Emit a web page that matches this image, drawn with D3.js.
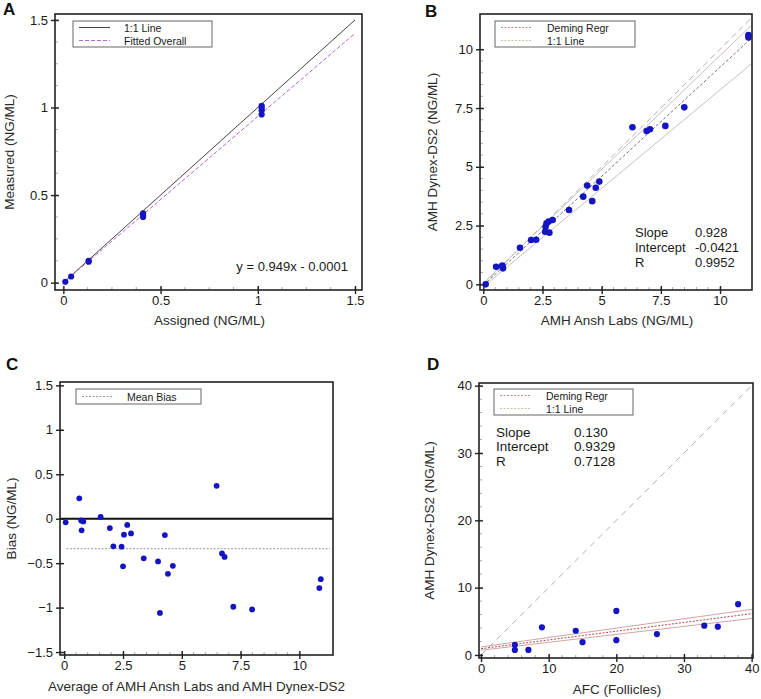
<!DOCTYPE html>
<html>
<head>
<meta charset="utf-8">
<script src="https://cdn.jsdelivr.net/npm/d3@7"></script>
<style>
  html, body { margin: 0; padding: 0; background: #fff; }
  svg { display: block; font-family: "Liberation Sans", Arial, sans-serif; }
</style>
</head>
<body>
<svg id="chart" width="761" height="699"></svg>
<script>
// ---------- Panel A data ----------
const assignedA = [0.01, 0.04, 0.13, 0.13, 0.41, 0.41, 0.41, 1.02, 1.02, 1.02, 1.02];
const measuredA = [0.005, 0.035, 0.12, 0.125, 0.375, 0.385, 0.395, 0.96, 0.985, 1.0, 1.01];
const fitA = { slope: 0.949, intercept: -0.0001 };
const ticksA = [0, 0.5, 1, 1.5];

// ---------- Panel B data ----------
const anshB  = [0.1, 0.54, 0.82, 0.83, 0.8, 1.55, 2.02, 2.23, 2.61, 2.63, 2.67, 2.76, 2.79, 2.93, 3.62, 4.22, 4.39, 4.6, 4.75, 4.9, 6.3, 6.9, 7.04, 7.69, 8.49, 11.2, 11.2];
const dynexB = [0.0, 0.75, 0.75, 0.68, 0.8, 1.56, 1.89, 1.9, 2.24, 2.45, 2.6, 2.67, 2.2, 2.74, 3.16, 3.73, 4.2, 3.54, 4.11, 4.37, 6.68, 6.52, 6.6, 6.74, 7.53, 10.6, 10.5];
const demingB = { slope: 0.928, intercept: -0.0421 };
const bandUpperB = [[0, 0.05], [11.35, 11.04]];
const bandLowerB = [[0, -0.1], [11.35, 9.4]];
const ticksB = [0, 2.5, 5, 7.5, 10];
const statsB = [["Slope", "0.928"], ["Intercept", "-0.0421"], ["R", "0.9952"]];

// ---------- Panel C data ----------
const avgC  = [0.06, 0.64, 0.72, 0.81, 0.74, 1.55, 1.94, 2.09, 2.44, 2.5, 2.54, 2.68, 2.84, 3.38, 3.99, 4.07, 4.28, 4.41, 4.62, 6.48, 6.71, 6.82, 7.19, 7.99, 10.85, 10.91];
const biasC = [-0.04, 0.23, -0.02, -0.03, -0.13, 0.02, -0.105, -0.31, -0.315, -0.536, -0.18, -0.07, -0.165, -0.446, -0.48, -1.06, -0.184, -0.62, -0.53, 0.37, -0.39, -0.43, -0.99, -1.02, -0.78, -0.68];
const meanBiasC = -0.337;
const ticksCx = [0, 2.5, 5, 7.5, 10];
const ticksCy = [-1.5, -1, -0.5, 0, 0.5, 1, 1.5];

// ---------- Panel D data ----------
const afcD   = [5, 5, 7, 9, 14, 15, 20, 20, 26, 33, 35, 38];
const dynexD = [1.5, 0.75, 0.75, 4.1, 3.6, 1.9, 6.55, 2.2, 3.1, 4.35, 4.2, 7.55];
const demingD = { slope: 0.130, intercept: 0.9329 };
const bandUpperD = [[0, 1.2], [40.2, 6.8]];
const bandLowerD = [[0, 0.7], [40.2, 5.45]];
const ticksD = [0, 10, 20, 30, 40];
const statsD = [["Slope", "0.130"], ["Intercept", "0.9329"], ["R", "0.7128"]];

const svg = d3.select("#chart");
const BLUE = "#1414c4";
const TXT = "#1a1a1a";

function makePanel(cfg) {
  const g = svg.append("g");
  const x = d3.scaleLinear().domain(cfg.xDom).range(cfg.xRange);
  const y = d3.scaleLinear().domain(cfg.yDom).range(cfg.yRange);
  const [L, R] = cfg.xRange, [B, T] = cfg.yRange;

  const minorX = d3.range(cfg.xTicks[0], cfg.xTicks[cfg.xTicks.length - 1] + 1e-9, cfg.xMinor);
  const minorY = d3.range(cfg.yTicks[0], cfg.yTicks[cfg.yTicks.length - 1] + 1e-9, cfg.yMinor);
  g.append("g").selectAll("line").data(minorX).join("line")
    .attr("x1", d => x(d)).attr("x2", d => x(d)).attr("y1", B).attr("y2", B - 3)
    .attr("stroke", "#aaa").attr("stroke-width", 1);
  g.append("g").selectAll("line").data(minorY).join("line")
    .attr("y1", d => y(d)).attr("y2", d => y(d)).attr("x1", L).attr("x2", L + 3)
    .attr("stroke", "#aaa").attr("stroke-width", 1);

  return { g, x, y, L, R, B, T };
}

function finishPanel(p, cfg) {
  const { g, x, y, L, R, B, T } = p;
  g.append("rect").attr("x", L).attr("y", T).attr("width", R - L).attr("height", B - T)
    .attr("fill", "none").attr("stroke", "#222").attr("stroke-width", 1.6);
  g.append("g").attr("transform", `translate(0,${B})`)
    .call(d3.axisBottom(x).tickValues(cfg.xTicks).tickFormat(d3.format("~g")).tickSizeOuter(0).tickSize(4).tickPadding(2));
  g.append("g").attr("transform", `translate(${L},0)`)
    .call(d3.axisLeft(y).tickValues(cfg.yTicks).tickFormat(d3.format("~g")).tickSizeOuter(0).tickSize(4).tickPadding(3));
  g.append("g").attr("transform", `translate(0,${B})`)
    .call(d3.axisBottom(x).tickValues(cfg.xTicks).tickFormat("").tickSizeOuter(0).tickSize(-4));
  g.append("g").attr("transform", `translate(${L},0)`)
    .call(d3.axisLeft(y).tickValues(cfg.yTicks).tickFormat("").tickSizeOuter(0).tickSize(-4));
  g.selectAll(".domain").remove();
  g.selectAll(".tick line").attr("stroke", "#222").attr("stroke-width", 1.4);
  g.selectAll(".tick text").attr("fill", TXT).style("font-size", "13px")
    .style("font-family", "'Liberation Sans', Arial, sans-serif");

  g.append("text").attr("x", (L + R) / 2 + cfg.xLabelDx).attr("y", cfg.xLabelY)
    .attr("text-anchor", "middle").attr("dominant-baseline", "central")
    .attr("fill", "#2a2a2a").style("font-size", "13.5px").text(cfg.xLabel);
  g.append("text").attr("transform", `translate(${cfg.yLabelX},${(T + B) / 2 + cfg.yLabelDy}) rotate(-90)`)
    .attr("text-anchor", "middle").attr("dominant-baseline", "central")
    .attr("fill", "#2a2a2a").style("font-size", "13.5px").text(cfg.yLabel);
  g.append("text").attr("x", cfg.letterX).attr("y", cfg.letterY)
    .attr("fill", "#111").style("font-size", "17px").style("font-weight", "bold").text(cfg.letter);
}

function legend(g, x0, y0, w, h, items) {
  g.append("rect").attr("x", x0).attr("y", y0).attr("width", w).attr("height", h)
    .attr("fill", "#fff").attr("stroke", "#666").attr("stroke-width", 1);
  items.forEach((it, i) => {
    const cy = y0 + (h / items.length) * (i + 0.5);
    g.append("line").attr("x1", x0 + 6).attr("x2", x0 + 37).attr("y1", cy).attr("y2", cy)
      .attr("stroke", it.color).attr("stroke-width", 1).attr("stroke-dasharray", it.dash || null);
    g.append("text").attr("x", x0 + it.tx).attr("y", cy).attr("dominant-baseline", "central")
      .attr("fill", TXT).style("font-size", "10.5px").text(it.label);
  });
}

function dots(p, xs, ys, r) {
  p.g.append("g").selectAll("circle").data(xs.map((d, i) => [d, ys[i]])).join("circle")
    .attr("cx", d => p.x(d[0])).attr("cy", d => p.y(d[1])).attr("r", r).attr("fill", BLUE);
}

function segment(p, pts, color, width, dash) {
  p.g.append("path").attr("d", d3.line().x(d => p.x(d[0])).y(d => p.y(d[1]))(pts))
    .attr("fill", "none").attr("stroke", color).attr("stroke-width", width)
    .attr("stroke-dasharray", dash || null);
}

// ================= Panel A =================
const cfgA = {
  xDom: [-0.043, 1.536], xRange: [55, 362], yDom: [-0.042, 1.534], yRange: [290, 14],
  xTicks: ticksA, yTicks: ticksA, xMinor: 0.125, yMinor: 0.125,
  xLabel: "Assigned (NG/ML)", yLabel: "Measured (NG/ML)",
  xLabelY: 320, xLabelDx: 1, yLabelX: 9, yLabelDy: 0,
  letter: "A", letterX: 3, letterY: 15
};
const pA = makePanel(cfgA);
segment(pA, [[0, 0], [1.5, 1.5]], "#444", 1);
segment(pA, [[0, fitA.intercept], [1.5, fitA.slope * 1.5 + fitA.intercept]], "#b36ad0", 1, "4,2");
dots(pA, assignedA, measuredA, 3.1);
legend(pA.g, 73, 21, 139, 26, [
  { label: "1:1 Line", color: "#444", tx: 51 },
  { label: "Fitted Overall", color: "#b36ad0", dash: "4,2", tx: 51 }
]);
pA.g.append("text").attr("x", 348).attr("y", 271).attr("text-anchor", "end")
  .attr("fill", TXT).style("font-size", "13px").text(`y = ${fitA.slope}x - 0.0001`);
finishPanel(pA, cfgA);

// ================= Panel B =================
const cfgB = {
  xDom: [-0.14, 11.35], xRange: [480, 752], yDom: [-0.24, 11.5], yRange: [290, 14],
  xTicks: ticksB, yTicks: ticksB, xMinor: 0.5, yMinor: 0.5,
  xLabel: "AMH Ansh Labs (NG/ML)", yLabel: "AMH Dynex-DS2 (NG/ML)",
  xLabelY: 320, xLabelDx: 1, yLabelX: 432, yLabelDy: 0,
  letter: "B", letterX: 425, letterY: 17
};
const pB = makePanel(cfgB);
segment(pB, bandUpperB, "#cdbdbd", 1);
segment(pB, bandLowerB, "#cdbdbd", 1);
segment(pB, [[0, 0], [11.3, 11.3]], "#b0b0b0", 1, "6,4");
segment(pB, [[0, demingB.intercept], [11.35, demingB.slope * 11.35 + demingB.intercept]], "#777", 1, "3,2");
dots(pB, anshB, dynexB, 3.3);
legend(pB.g, 495, 21, 140, 26, [
  { label: "Deming Regr", color: "#d08a8a", dash: "2,1.5", tx: 52 },
  { label: "1:1 Line", color: "#c8c8a8", dash: "2,1.5", tx: 52 }
]);
statsB.forEach((s, i) => {
  pB.g.append("text").attr("x", 635).attr("y", 232 + i * 15).attr("dominant-baseline", "central")
    .attr("fill", TXT).style("font-size", "13px").text(s[0]);
  pB.g.append("text").attr("x", 695).attr("y", 232 + i * 15).attr("dominant-baseline", "central")
    .attr("fill", TXT).style("font-size", "13px").text(s[1]);
});
finishPanel(pB, cfgB);

// ================= Panel C =================
const cfgC = {
  xDom: [-0.18, 11.43], xRange: [60, 333], yDom: [-1.533, 1.538], yRange: [655, 382],
  xTicks: ticksCx, yTicks: ticksCy, xMinor: 0.5, yMinor: 0.5,
  xLabel: "Average of AMH Ansh Labs and AMH Dynex-DS2", yLabel: "Bias (NG/ML)",
  xLabelY: 686, xLabelDx: 0, yLabelX: 11, yLabelDy: 0,
  letter: "C", letterX: 6, letterY: 370
};
const pC = makePanel(cfgC);
segment(pC, [[-0.18, 0], [11.43, 0]], "#111", 2);
segment(pC, [[0.1, meanBiasC], [11.3, meanBiasC]], "#999", 1, "2,1.5");
dots(pC, avgC, biasC, 2.9);
legend(pC.g, 76, 389, 125, 15, [
  { label: "Mean Bias", color: "#999", dash: "2,1.5", tx: 51 }
]);
finishPanel(pC, cfgC);

// ================= Panel D =================
const cfgD = {
  xDom: [-0.3, 40.2], xRange: [479, 753], yDom: [-0.45, 40.4], yRange: [658, 383],
  xTicks: ticksD, yTicks: ticksD, xMinor: 2, yMinor: 2,
  xLabel: "AFC (Follicles)", yLabel: "AMH Dynex-DS2 (NG/ML)",
  xLabelY: 689, xLabelDx: 1, yLabelX: 429, yLabelDy: 0,
  letter: "D", letterX: 427, letterY: 370
};
const pD = makePanel(cfgD);
segment(pD, [[0, 0], [40, 40]], "#b0b0b0", 1, "6,5");
segment(pD, bandUpperD, "#d4a4a4", 1);
segment(pD, bandLowerD, "#d4a4a4", 1);
segment(pD, [[0, demingD.intercept], [40.2, demingD.slope * 40.2 + demingD.intercept]], "#a05050", 1, "2,1.5");
dots(pD, afcD, dynexD, 3.1);
legend(pD.g, 494, 389, 139, 26, [
  { label: "Deming Regr", color: "#d08a8a", dash: "2,1.5", tx: 52 },
  { label: "1:1 Line", color: "#c8c8a8", dash: "2,1.5", tx: 52 }
]);
statsD.forEach((s, i) => {
  pD.g.append("text").attr("x", 496).attr("y", 432 + i * 14.5).attr("dominant-baseline", "central")
    .attr("fill", TXT).style("font-size", "13.5px").text(s[0]);
  pD.g.append("text").attr("x", 574).attr("y", 432 + i * 14.5).attr("dominant-baseline", "central")
    .attr("fill", TXT).style("font-size", "13.5px").text(s[1]);
});
finishPanel(pD, cfgD);
</script>
</body>
</html>
